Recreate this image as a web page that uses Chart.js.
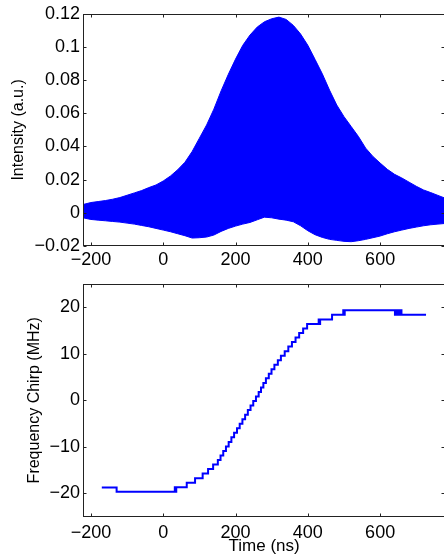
<!DOCTYPE html>
<html><head><meta charset="utf-8">
<script src="https://cdn.jsdelivr.net/npm/chart.js@4.4.0/dist/chart.umd.min.js"></script>
<style>
html,body{margin:0;padding:0;width:444px;height:555px;overflow:hidden;background:#fff;}
#c1{position:absolute;left:0;top:0;}
#c2{position:absolute;left:0;top:270px;}
</style></head><body>
<canvas id="c1" width="460" height="270"></canvas>
<canvas id="c2" width="460" height="285"></canvas>
<script>
// ---- data ----
const timeIntensity = [-222,-200,-180,-160,-140,-120,-100,-80,-60,-40,-20,0,20,40,60,80,100,120,140,160,180,200,220,240,260,280,300,320,340,360,380,400,420,440,460,480,500,520,540,560,580,600,620,640,660,680,700,720,740,760,780];
const intensityUpper = [0.0050,0.0062,0.0068,0.0074,0.0082,0.0092,0.0106,0.0120,0.0134,0.0152,0.0168,0.0192,0.0222,0.0260,0.0305,0.0370,0.0450,0.0530,0.0625,0.0735,0.0835,0.0927,0.1010,0.1072,0.1120,0.1152,0.1170,0.1180,0.1166,0.1130,0.1078,0.1010,0.0925,0.0838,0.0740,0.0650,0.0580,0.0520,0.0460,0.0390,0.0340,0.0300,0.0262,0.0232,0.0210,0.0185,0.0160,0.0138,0.0122,0.0105,0.0088];
const intensityLower = [-0.0030,-0.0040,-0.0044,-0.0048,-0.0052,-0.0056,-0.0062,-0.0068,-0.0076,-0.0084,-0.0094,-0.0104,-0.0114,-0.0126,-0.0138,-0.0152,-0.0150,-0.0146,-0.0134,-0.0112,-0.0094,-0.0080,-0.0068,-0.0058,-0.0042,-0.0026,-0.0030,-0.0038,-0.0044,-0.0054,-0.0078,-0.0108,-0.0132,-0.0148,-0.0160,-0.0166,-0.0172,-0.0174,-0.0168,-0.0160,-0.0150,-0.0140,-0.0126,-0.0114,-0.0104,-0.0094,-0.0086,-0.0078,-0.0072,-0.0068,-0.0064];

const chirpTime = [-170,-129,32,34,36,65,88,109,124,138,151,158.5,166,173.5,181,188.5,196,204,211.5,219,226.5,234,241.5,249,256.5,264,270.5,277,284,292,299.5,307.5,317,325.5,336,346,356,366,376,387,398,430,432,434,467,498,500,502,641,644,647,650,653,656,659,727];
const chirpMHz = [-18.75,-19.65,-18.68,-19.65,-18.68,-17.70,-16.73,-15.75,-14.78,-13.81,-12.83,-11.86,-10.88,-9.91,-8.94,-7.96,-6.99,-6.01,-5.04,-4.07,-3.09,-2.12,-1.14,-0.17,0.80,1.78,2.75,3.73,4.70,5.67,6.65,7.62,8.60,9.57,10.54,11.52,12.49,13.47,14.44,15.42,16.39,17.36,16.39,17.36,18.34,19.31,18.34,19.31,18.34,19.31,18.34,19.31,18.34,19.31,18.34,18.34];

const timeTicks = [-200,0,200,400,600];
const timeTickLabels = ['\u2212200','0','200','400','600'];
const intensityTicks = [-0.02,0,0.02,0.04,0.06,0.08,0.1,0.12];
const intensityTickLabels = ['\u22120.02','0','0.02','0.04','0.06','0.08','0.1','0.12'];
const chirpTicks = [-20,-10,0,10,20];
const chirpTickLabels = ['\u221220','\u221210','0','10','20'];
const timeRange = [-222, 780];
const intensityRange = [-0.02, 0.12];
const chirpRange = [-25, 25];

const FONT = '"Liberation Sans", Arial, Helvetica, sans-serif';
const AXIS = '#222';
const BLUE = '#0000ff';

const boxPlugin = {
  id: 'box',
  afterDraw(chart) {
    const {ctx, chartArea: a, scales} = chart;
    ctx.save();
    ctx.strokeStyle = AXIS; ctx.lineWidth = 1;
    const L = Math.round(a.left) + 0.5, R = Math.round(a.right) - 0.5;
    const T = Math.round(a.top) + 0.5, B = Math.round(a.bottom) - 0.5;
    ctx.strokeRect(L, T, R - L, B - T);
    const tl = 3;
    ctx.beginPath();
    scales.x.ticks.forEach(t => {
      const p = Math.round(scales.x.getPixelForValue(t.value)) + 0.5;
      ctx.moveTo(p, B); ctx.lineTo(p, B - tl);
      ctx.moveTo(p, T); ctx.lineTo(p, T + tl);
    });
    scales.y.ticks.forEach(t => {
      const p = Math.round(scales.y.getPixelForValue(t.value)) + 0.5;
      ctx.moveTo(L, p); ctx.lineTo(L + tl, p);
      ctx.moveTo(R, p); ctx.lineTo(R - tl, p);
    });
    ctx.stroke();
    ctx.restore();
  }
};

function xScale(height, pad, withTitle) {
  return {
    type: 'linear', min: timeRange[0], max: timeRange[1],
    grid: {display: false, drawTicks: false}, border: {display: false},
    afterBuildTicks: s => { s.ticks = timeTicks.map(v => ({value: v})); },
    afterFit: s => { s.height = height; },
    ticks: {
      autoSkip: false, maxRotation: 0, minRotation: 0, padding: pad, color: '#000',
      font: {family: FONT, size: 18},
      callback: (v, i) => timeTickLabels[i]
    },
    title: withTitle ? {display: true, text: 'Time (ns)', color: '#000',
      font: {family: FONT, size: 17, lineHeight: 1.0}, padding: {top: 0, bottom: 0}} : {display: false}
  };
}
function yScale(range, tks, lbls, title, titlePad) {
  return {
    type: 'linear', min: range[0], max: range[1],
    grid: {display: false, drawTicks: false}, border: {display: false},
    afterBuildTicks: s => { s.ticks = tks.map(v => ({value: v})); },
    afterFit: s => { s.width = 83; },
    ticks: {
      autoSkip: false, padding: 3, color: '#000',
      font: {family: FONT, size: 18},
      callback: (v, i) => lbls[i]
    },
    title: {display: true, text: title, color: '#000',
      font: {family: FONT, size: 16, lineHeight: 1.2}, padding: {top: titlePad, bottom: 0}}
  };
}

const common = {
  responsive: false, animation: false, events: [],
  plugins: {legend: {display: false}, tooltip: {enabled: false}},
  elements: {point: {radius: 0}}
};

new Chart(document.getElementById('c1'), {
  type: 'line',
  data: {datasets: [
    {data: timeIntensity.map((t, i) => ({x: t, y: intensityUpper[i]})),
     borderColor: BLUE, borderWidth: 1, backgroundColor: BLUE, fill: '+1', tension: 0},
    {data: timeIntensity.map((t, i) => ({x: t, y: intensityLower[i]})),
     borderColor: BLUE, borderWidth: 1, backgroundColor: BLUE, fill: false, tension: 0}
  ]},
  options: Object.assign({}, common, {
    layout: {padding: {top: 13, right: 14.8, bottom: 0, left: 0}},
    scales: {x: xScale(24, 3, false), y: yScale(intensityRange, intensityTicks, intensityTickLabels, 'Intensity (a.u.)', 8.7)}
  }),
  plugins: [boxPlugin]
});

new Chart(document.getElementById('c2'), {
  type: 'line',
  data: {datasets: [
    {data: chirpTime.map((t, i) => ({x: t, y: chirpMHz[i]})),
     borderColor: BLUE, borderWidth: 2, fill: false, stepped: 'before', tension: 0}
  ]},
  options: Object.assign({}, common, {
    layout: {padding: {top: 13.3, right: 14.8, bottom: 0, left: 0}},
    scales: {x: xScale(38.3, 6, true), y: yScale(chirpRange, chirpTicks, chirpTickLabels, 'Frequency Chirp (MHz)', 24.7)}
  }),
  plugins: [boxPlugin]
});
</script>
</body></html>
